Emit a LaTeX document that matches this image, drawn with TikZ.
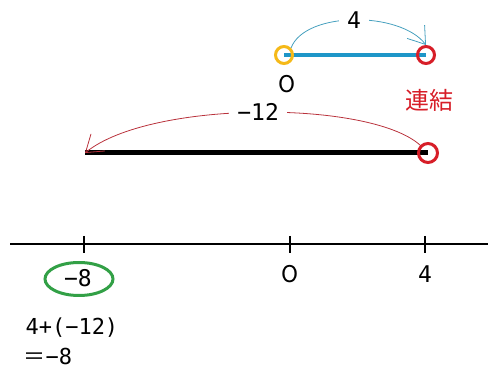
\documentclass[tikz,border=0pt]{standalone}
\usepackage{fontspec}
\setmainfont{DejaVu Sans Mono}
\newfontfamily\cjk{Noto Sans CJK JP}
\usepackage{tikz}
\usetikzlibrary{arrows.meta,shapes.geometric}
\definecolor{ringyel}{RGB}{245,185,25}
\definecolor{ringred}{RGB}{215,30,40}
\definecolor{segblue}{RGB}{30,150,200}
\definecolor{arcblue}{RGB}{70,160,190}
\definecolor{arcred}{RGB}{185,50,60}
\definecolor{ansgreen}{RGB}{50,160,70}

\begin{document}
\begin{tikzpicture}[
			x=1pt,y=-1pt,
			every node/.style={font=\fontsize{23}{27}\selectfont},
			ring/.style={draw,circle,line width=3pt,minimum size=17pt,inner sep=0pt},
			jump/.style={line width=0.8pt,-{Straight Barb[length=16pt,width=22pt]}},
			lbl/.style={fill=white,text=black,inner xsep=8pt,inner ysep=2pt}
			]
			
			\useasboundingbox (0,0) rectangle (488,374);
			
			% first step: 0 -> 4
			\coordinate (a0) at (284,55);
			\coordinate (a4) at (426,55);
			\draw[segblue,line width=3.5pt] (a0) -- (a4);
			\node[ring,draw=ringyel] (s0) at (a0) {};
			\node[ring,draw=ringred] (s4) at (a4) {};
			\draw[jump,arcblue] (s0.north east) .. controls (305,11) and (400,11) .. (s4.north)
				node[lbl,pos=0.5] (n4) {4};
			\node[font=\cjk\fontsize{23}{27}\selectfont] (o1) at (287,84) {O};
			\node[text=ringred,font=\cjk\fontsize{24}{28}\selectfont] (rl) at (429,100) {連結};
			
			% second step: 4 -> -12
			\coordinate (b4) at (428,153);
			\coordinate (bm) at (85,153);
			\draw[line width=5pt] (bm) -- (b4);
			\node[ring,draw=ringred,minimum size=19pt] (t4) at (b4) {};
			\draw[jump,arcred] (t4.north west) .. controls (370,100) and (150,100) .. (bm)
				node[lbl,pos=0.5] (n12) {−12};
			
			% number line
			\draw[line width=1.2pt] (10,244) -- (488,244);
			\foreach \x in {84,290,425}
				\draw[line width=1.2pt] (\x,236) -- (\x,253);
			\node (m8) at (78,278) {−8};
			\node[font=\cjk\fontsize{23}{27}\selectfont] (z) at (290,274) {O};
			\node (f) at (425,274) {4};
			\node[draw=ansgreen,ellipse,line width=3pt,minimum width=68pt,minimum height=33pt] (ans) at (79,279) {};
			
			\node[anchor=west,font=\fontsize{22}{26}\selectfont] (sum) at (22,328) {4+(−12)};
			\node[anchor=west,font=\fontsize{22}{26}\selectfont] (res) at (20,356) {{\cjk ＝}−8};
			
		\end{tikzpicture}
\end{document}
